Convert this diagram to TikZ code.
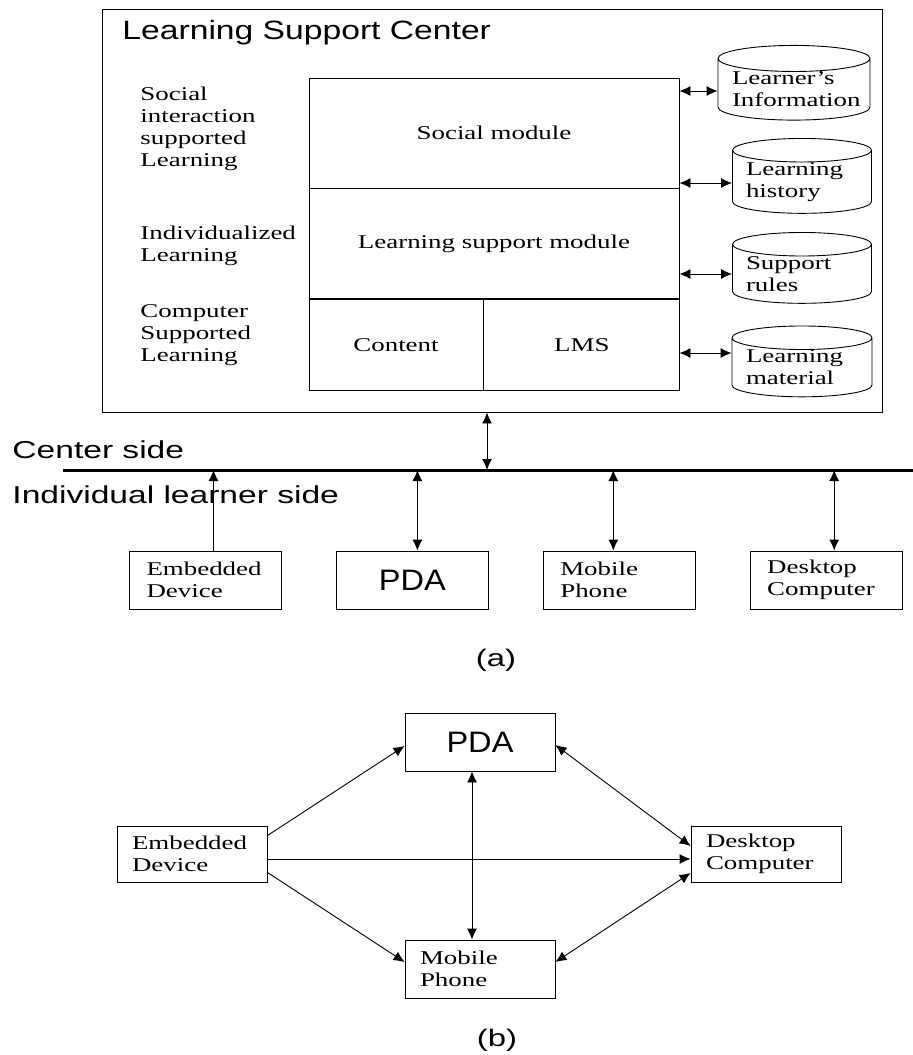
\documentclass[tikz,border=0pt]{standalone}
\usepackage{fontspec}
\setmainfont[FakeStretch=1.38]{Liberation Serif}
\newfontfamily\titlefont[FakeStretch=1.27]{Liberation Sans}
\newfontfamily\sidefont[FakeStretch=1.37]{Liberation Sans}
\newfontfamily\pdafont[FakeStretch=1.1]{Liberation Sans}
\newcommand{\mfont}{\fontsize{19.5}{22}\selectfont}
\usetikzlibrary{shapes,arrows.meta,positioning}

\begin{document}
\begin{tikzpicture}[x=1pt, y=1pt, node distance=54pt, line width=0.9pt]
    \tikzstyle{frame} = [rectangle, draw=black, inner sep=0pt]
    \tikzstyle{module} = [rectangle, draw=black, inner sep=0pt, minimum height=110pt, font=\mfont]
    \tikzstyle{sidetext} = [align=left, inner sep=0pt, anchor=west, font=\mfont]
    \tikzstyle{store} = [cylinder, shape border rotate=90, aspect=0.21, draw=black,
        align=left, text width=124pt, inner sep=0pt, font=\mfont]
    \tikzstyle{device} = [rectangle, draw=black, minimum width=152pt, minimum height=58pt,
        text width=118pt, align=left, inner sep=0pt, font=\mfont]
    \tikzstyle{big} = [align=center, font=\pdafont\fontsize{29.6}{32}\selectfont]
    \tikzstyle{side} = [anchor=west, inner sep=0pt, font=\sidefont\fontsize{24.5}{28}\selectfont]
    \tikzstyle{link} = [{Latex[length=11pt, width=10pt]}-{Latex[length=11pt, width=10pt]}]
    \tikzstyle{arrow} = [-{Latex[length=11pt, width=10pt]}]
    \useasboundingbox (0,0) rectangle (913,-1055);
    % (a)
    \node (lsc) [frame, minimum width=780pt, minimum height=403pt] at (492,-210.5) {};
    \node (title) [anchor=west, inner sep=0pt, font=\titlefont\fontsize{26.5}{30}\selectfont] at (122,-33) {Learning Support Center};
    \node (social) [module, minimum width=370pt] at (494,-133) {Social module};
    \node (support) [module, minimum width=370pt, below=0pt of social] {Learning support module};
    \node (content) [module, minimum width=174pt, minimum height=91pt, below right=0pt and 0pt of support.south west] {Content};
    \node (lms) [module, minimum width=196pt, minimum height=91pt, right=0pt of content] {LMS};
    \node (soclearn) [sidetext] at (140,-128.5) {Social\\interaction\\supported\\Learning};
    \node (indlearn) [sidetext] at (140,-246) {Individualized\\Learning};
    \node (cmplearn) [sidetext] at (140,-335.5) {Computer\\Supported\\Learning};
    \node (info) [store, minimum width=152pt, minimum height=67pt] at (794,-89.5) {Learner's\\Information};
    \node (history) [store, minimum width=139pt, minimum height=70pt, text width=112pt] at (802,-182) {Learning\\history};
    \node (rules) [store, minimum width=139pt, minimum height=68pt, text width=112pt] at (802,-274) {Support\\rules};
    \node (material) [store, minimum width=140pt, minimum height=69pt, text width=112pt] at (802,-367.5) {Learning\\material};
    \foreach \db/\dy in {info/-1.5, history/-1, rules/0, material/14.5}
        \draw [link] ([yshift=\dy pt]\db.west -| social.east) -- ([yshift=\dy pt]\db.west);
    \coordinate (busw) at (63,-470);
    \coordinate (buse) at (913,-470);
    \draw [line width=3pt] (busw) -- (buse);
    \draw [link] ([xshift=-5pt]lsc.south) -- ([xshift=-5pt]lsc.south |- busw);
    \node (cside) [side] at (12,-450) {Center side};
    \node (iside) [side] at (12,-495) {Individual learner side};
    \node (emb) [device] at (205.5,-580) {Embedded\\Device};
    \node (pda) [device, big, right=of emb] {PDA};
    \node (mob) [device, right=of pda] {Mobile\\Phone};
    \node (desk) [device, right=of mob] {Desktop\\Computer};
    \draw [arrow] ([xshift=8pt]emb.north) -- ([xshift=8pt]emb.north |- busw);
    \foreach \dev/\dx in {pda/5, mob/-6, desk/8}
        \draw [link] ([xshift=\dx pt]\dev.north) -- ([xshift=\dx pt]\dev.north |- busw);
    \node (capa) [font=\sidefont\fontsize{24}{28}\selectfont] at (496,-660) {(a)};
    % (b)
    \node (pda2) [device, big, minimum width=150pt] at (480,-742) {PDA};
    \node (emb2) [device, minimum width=150pt, minimum height=56pt, text width=120pt] at (192,-854) {Embedded\\Device};
    \node (desk2) [device, minimum width=150pt, minimum height=56pt, text width=120pt] at (766,-854) {Desktop\\Computer};
    \node (mob2) [device, minimum width=150pt, text width=120pt] at (480,-969) {Mobile\\Phone};
    \draw [arrow] ([yshift=-10pt]emb2.north east) -- ([yshift=-4pt]pda2.west);
    \draw [arrow] ([yshift=-5pt]emb2.east) -- ([yshift=-5pt]desk2.west);
    \draw [arrow] ([yshift=10pt]emb2.south east) -- ([yshift=7pt]mob2.west);
    \draw [link] ([xshift=-8pt]pda2.south) -- ([xshift=-8pt]mob2.north);
    \draw [link] ([yshift=-3pt]pda2.east) -- ([yshift=8pt]desk2.west);
    \draw [link] ([yshift=7pt]mob2.east) -- ([yshift=-19pt]desk2.west);
    \node (capb) [font=\sidefont\fontsize{24}{28}\selectfont] at (497,-1040) {(b)};
\end{tikzpicture}
\end{document}
